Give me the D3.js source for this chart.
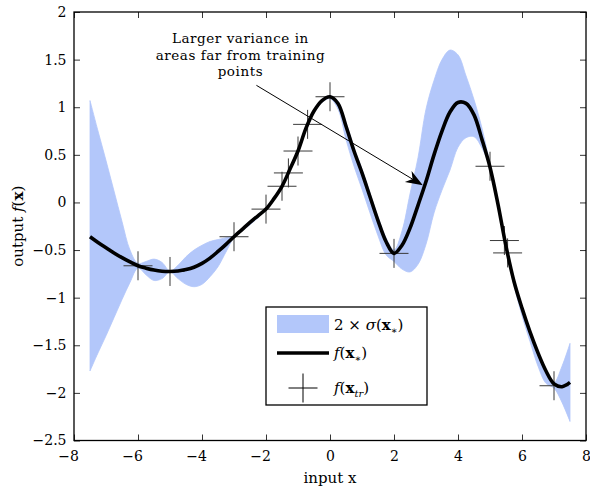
<!DOCTYPE html>
<html>
<head>
<meta charset="utf-8">
<script src="https://cdn.jsdelivr.net/npm/d3@7"></script>
<style>
  body { margin: 0; background: #fff; }
  svg { display: block; }
  text { font-family: 'DejaVu Serif', serif; fill: #000; }
</style>
</head>
<body>
<svg width="590" height="488"></svg>
<script>
'use strict'

// sample positions of the prediction
const gridX = [
  -7.5, -7.25, -7, -6.75, -6.5, -6.25, -6, -5.75, -5.5, -5.25, -5, -4.75, -4.5, -4.25, -4, -3.75,
  -3.5, -3.25, -3, -2.75, -2.5, -2.25, -2, -1.75, -1.5, -1.25, -1, -0.75, -0.5, -0.25, 0,
  0.25, 0.5, 0.75, 1, 1.25, 1.5, 1.75, 2, 2.25, 2.5, 2.75, 3, 3.25, 3.5, 3.75, 4,
  4.25, 4.5, 4.75, 5, 5.25, 5.5, 5.75, 6, 6.25, 6.5, 6.75, 7, 7.25, 7.5
]

// predicted mean f(x*)
const meanY = [
  -0.36, -0.42, -0.475, -0.53, -0.58, -0.625, -0.665, -0.69, -0.71, -0.722, -0.725, -0.72, -0.705, -0.68, -0.64, -0.585,
  -0.515, -0.44, -0.36, -0.285, -0.21, -0.14, -0.07, 0.04, 0.17, 0.35, 0.54, 0.78, 0.96, 1.07, 1.11,
  1.04, 0.8, 0.54, 0.31, 0.06, -0.19, -0.41, -0.535, -0.45, -0.27, -0.03, 0.22, 0.5, 0.75, 0.95, 1.05,
  1.04, 0.92, 0.66, 0.37, -0.02, -0.46, -0.83, -1.11, -1.36, -1.58, -1.77, -1.905, -1.935, -1.89
]

// upper edge of the 2 sigma band
const upperY = [
  1.07, 0.75, 0.44, 0.12, -0.2, -0.5, -0.64, -0.62, -0.595, -0.63, -0.72, -0.66, -0.57, -0.5, -0.45, -0.41,
  -0.39, -0.37, -0.35, -0.27, -0.195, -0.125, -0.06, 0.05, 0.18, 0.36, 0.55, 0.79, 0.97, 1.08, 1.12,
  1.06, 0.84, 0.58, 0.35, 0.1, -0.15, -0.37, -0.5, -0.3, 0.09, 0.47, 0.98, 1.28, 1.5, 1.6, 1.55,
  1.33, 1.08, 0.78, 0.4, 0.0, -0.43, -0.81, -1.09, -1.34, -1.57, -1.76, -1.89, -1.72, -1.48
]

// lower edge of the 2 sigma band
const lowerY = [
  -1.77, -1.58, -1.4, -1.21, -1.02, -0.84, -0.69, -0.76, -0.82, -0.8, -0.73, -0.8, -0.86, -0.885, -0.86, -0.78,
  -0.675, -0.52, -0.37, -0.3, -0.235, -0.16, -0.08, 0.03, 0.16, 0.33, 0.53, 0.77, 0.94, 1.05, 1.09,
  0.98, 0.66, 0.38, 0.14, -0.11, -0.35, -0.55, -0.62, -0.7, -0.73, -0.65, -0.44, -0.11, 0.13, 0.34, 0.58,
  0.68, 0.69, 0.57, 0.36, -0.05, -0.49, -0.87, -1.19, -1.46, -1.72, -1.9, -1.95, -2.1, -2.3
]

// training points
const trainX = [-6, -5, -3, -2, -1.5, -1.3, -1, -0.7, 0, 2, 5, 5.45, 5.55, 7]
const trainY = [-0.665, -0.725, -0.36, -0.07, 0.17, 0.31, 0.54, 0.82, 1.11, -0.535, 0.38, -0.4, -0.53, -1.925]

const xTicks = [-8, -6, -4, -2, 0, 2, 4, 6, 8]
const xTickLabels = ['−8', '−6', '−4', '−2', '0', '2', '4', '6', '8']
const yTicks = [-2.5, -2, -1.5, -1, -0.5, 0, 0.5, 1, 1.5, 2]
const yTickLabels = ['−2.5', '−2', '−1.5', '−1', '−0.5', '0', '0.5', '1', '1.5', '2']

// annotation: text anchor and arrow, in data units
const noteLines = ['Larger variance in', 'areas far from training', 'points']
const noteAt = [-2.8, 1.67]
const arrowFrom = [-2.3, 1.23]
const arrowTo = [2.9, 0.18]

const bandColor = '#b3c7fa'

const svg = d3.select('svg')

const xScale = d3.scaleLinear().domain([-8, 8]).range([74, 586])
const yScale = d3.scaleLinear().domain([-2.5, 2]).range([440.5, 12])

const pred = gridX.map((x, i) => ({ x: x, m: meanY[i], lo: lowerY[i], hi: upperY[i] }))
const train = trainX.map((x, i) => ({ x: x, y: trainY[i] }))

const smooth = d3.curveCatmullRom.alpha(0.5)

// band
svg
  .append('path')
  .datum(pred)
  .attr('fill', bandColor)
  .attr('stroke', bandColor)
  .attr('stroke-width', 0.8)
  .attr(
    'd',
    d3
      .area()
      .x(d => xScale(d.x))
      .y0(d => yScale(d.lo))
      .y1(d => yScale(d.hi))
      .curve(smooth)
  )

// training crosses
const crossSize = 14.5
const crosses = svg.append('g').attr('stroke', '#3a3a3a').attr('stroke-width', 1)
train.forEach(d => {
  const cx = xScale(d.x),
    cy = yScale(d.y)
  crosses.append('line').attr('x1', cx - crossSize).attr('x2', cx + crossSize).attr('y1', cy).attr('y2', cy)
  crosses.append('line').attr('x1', cx).attr('x2', cx).attr('y1', cy - crossSize).attr('y2', cy + crossSize)
})

// mean line
svg
  .append('path')
  .datum(pred)
  .attr('fill', 'none')
  .attr('stroke', '#000')
  .attr('stroke-width', 3.6)
  .attr('stroke-linejoin', 'round')
  .attr(
    'd',
    d3
      .line()
      .x(d => xScale(d.x))
      .y(d => yScale(d.m))
      .curve(smooth)
  )

// axes, ticks pointing inward on all four sides
const tickLen = 6
function styleAxis(g) {
  g.select('.domain').remove()
  g.selectAll('.tick line').attr('stroke', '#000').attr('stroke-width', 0.8)
  g.selectAll('text').style('font-size', '14px').style('font-family', "'DejaVu Serif', serif")
}

svg
  .append('g')
  .attr('transform', 'translate(0,' + yScale(-2.5) + ')')
  .call(
    d3
      .axisBottom(xScale)
      .tickValues(xTicks)
      .tickFormat((d, i) => xTickLabels[i])
      .tickSize(-tickLen)
      .tickSizeOuter(0)
      .tickPadding(11)
  )
  .call(styleAxis)
  .call(g => g.selectAll('text').attr('dx', (d, i) => (d < 0 ? -5.9 : 0)))

svg
  .append('g')
  .attr('transform', 'translate(0,' + yScale(2) + ')')
  .call(d3.axisTop(xScale).tickValues(xTicks).tickFormat('').tickSize(-tickLen).tickSizeOuter(0))
  .call(styleAxis)

svg
  .append('g')
  .attr('transform', 'translate(' + xScale(-8) + ',0)')
  .call(
    d3
      .axisLeft(yScale)
      .tickValues(yTicks)
      .tickFormat((d, i) => yTickLabels[i])
      .tickSize(-tickLen)
      .tickSizeOuter(0)
      .tickPadding(7.5)
  )
  .call(styleAxis)

svg
  .append('g')
  .attr('transform', 'translate(' + xScale(8) + ',0)')
  .call(d3.axisRight(yScale).tickValues(yTicks).tickFormat('').tickSize(-tickLen).tickSizeOuter(0))
  .call(styleAxis)

// frame
svg
  .append('rect')
  .attr('x', xScale(-8))
  .attr('y', yScale(2))
  .attr('width', xScale(8) - xScale(-8))
  .attr('height', yScale(-2.5) - yScale(2))
  .attr('fill', 'none')
  .attr('stroke', '#000')
  .attr('stroke-width', 1.3)

// axis labels
svg
  .append('text')
  .attr('x', (xScale(-8) + xScale(8)) / 2)
  .attr('y', 483)
  .attr('text-anchor', 'middle')
  .style('font-size', '15px')
  .text('input x')

const ylab = svg
  .append('text')
  .attr('transform', 'translate(23,' + (yScale(2) + yScale(-2.5)) / 2 + ') rotate(-90)')
  .attr('text-anchor', 'middle')
  .style('font-size', '15px')
ylab.append('tspan').text('output ')
ylab.append('tspan').style('font-style', 'italic').text('f')
ylab.append('tspan').text('(')
ylab.append('tspan').style('font-weight', 'bold').text('x')
ylab.append('tspan').text(')')

// annotation, one text per line
noteLines.forEach((t, i) => {
  svg
    .append('text')
    .attr('x', xScale(noteAt[0]))
    .attr('y', yScale(noteAt[1]) + i * 16.5)
    .attr('text-anchor', 'middle')
    .style('font-size', '13.5px')
    .style('letter-spacing', '0.55px')
    .text(t)
})

const ax0 = xScale(arrowFrom[0]),
  ay0 = yScale(arrowFrom[1]),
  ax1 = xScale(arrowTo[0]),
  ay1 = yScale(arrowTo[1])
const ang = Math.atan2(ay1 - ay0, ax1 - ax0)
const headLen = 17,
  headW = 6.5,
  notch = 5
function pt(dx, dy) {
  // dx along the arrow, dy across it, measured from the tip
  return [ax1 + dx * Math.cos(ang) - dy * Math.sin(ang), ay1 + dx * Math.sin(ang) + dy * Math.cos(ang)]
}
svg
  .append('line')
  .attr('x1', ax0)
  .attr('y1', ay0)
  .attr('x2', pt(-headLen + notch, 0)[0])
  .attr('y2', pt(-headLen + notch, 0)[1])
  .attr('stroke', '#000')
  .attr('stroke-width', 1)
svg
  .append('path')
  .attr('d', 'M' + [pt(0, 0), pt(-headLen, -headW), pt(-headLen + notch, 0), pt(-headLen, headW)].join('L') + 'Z')
  .attr('fill', '#000')

// legend
const legend = svg.append('g')
legend
  .append('rect')
  .attr('x', 266)
  .attr('y', 307)
  .attr('width', 161)
  .attr('height', 98)
  .attr('fill', '#fff')
  .attr('stroke', '#000')
  .attr('stroke-width', 1.3)

legend.append('rect').attr('x', 277).attr('y', 315).attr('width', 52).attr('height', 18).attr('fill', bandColor)
legend
  .append('line')
  .attr('x1', 277)
  .attr('x2', 329)
  .attr('y1', 353)
  .attr('y2', 353)
  .attr('stroke', '#000')
  .attr('stroke-width', 3.6)
legend
  .append('line')
  .attr('x1', 303 - crossSize)
  .attr('x2', 303 + crossSize)
  .attr('y1', 388)
  .attr('y2', 388)
  .attr('stroke', '#000')
  .attr('stroke-width', 1)
legend
  .append('line')
  .attr('x1', 303)
  .attr('x2', 303)
  .attr('y1', 388 - crossSize)
  .attr('y2', 388 + crossSize)
  .attr('stroke', '#000')
  .attr('stroke-width', 1)

function mathLabel(y, parts) {
  const t = legend.append('text').attr('x', 334).attr('y', y).style('font-size', '15px')
  parts.forEach(p => {
    const s = t.append('tspan').text(p.t)
    if (p.i) s.style('font-style', 'italic')
    if (p.b) s.style('font-weight', 'bold')
    if (p.sub) s.attr('dy', 4).style('font-size', '10px')
    if (p.up) s.attr('dy', -4)
  })
}
mathLabel(330, [{ t: '2 × ' }, { t: 'σ', i: true }, { t: '(' }, { t: 'x', b: true }, { t: '∗', sub: true }, { t: ')', up: true }])
mathLabel(358, [{ t: 'f', i: true }, { t: '(' }, { t: 'x', b: true }, { t: '∗', sub: true }, { t: ')', up: true }])
mathLabel(393, [{ t: 'f', i: true }, { t: '(' }, { t: 'x', b: true }, { t: 'tr', sub: true, i: true }, { t: ')', up: true }])
</script>
</body>
</html>
